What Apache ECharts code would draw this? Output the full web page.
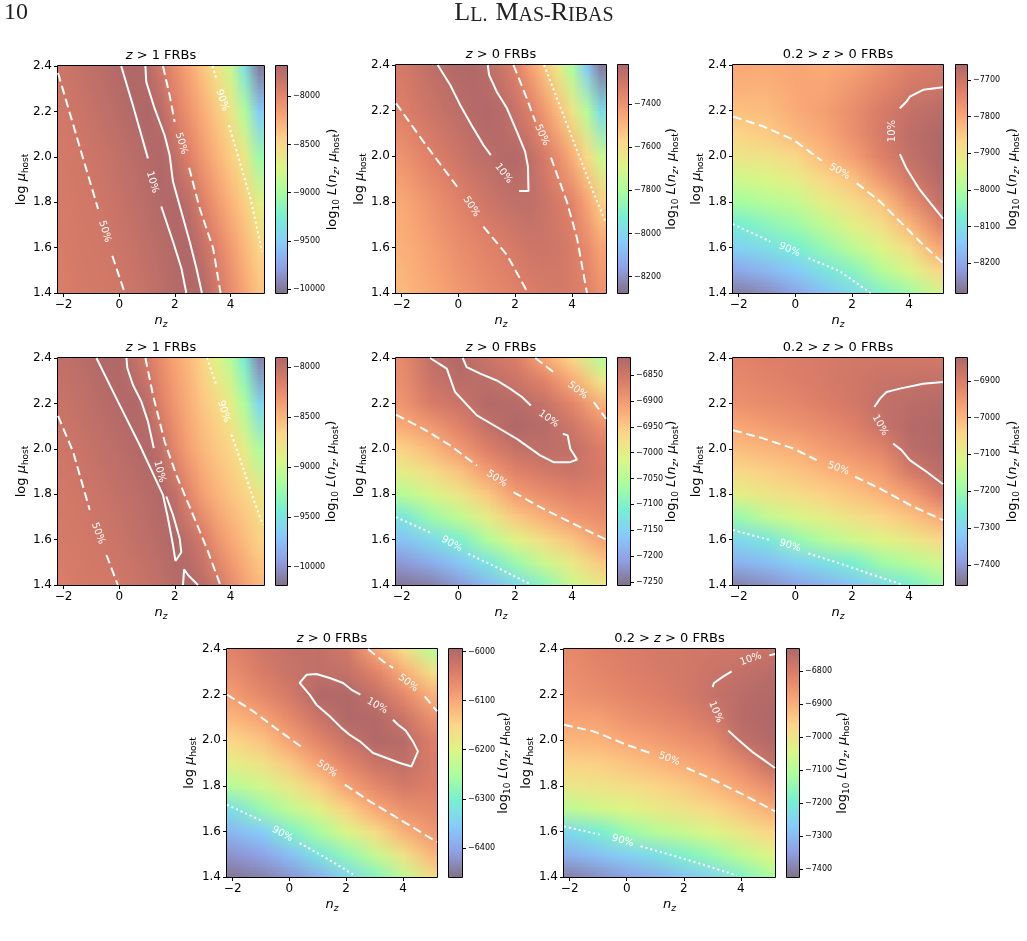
<!DOCTYPE html>
<html>
<head>
<meta charset="utf-8">
<title>Likelihood maps</title>
<script src="https://cdn.jsdelivr.net/npm/echarts@6.0.0/dist/echarts.min.js"></script>
<style>
html,body{margin:0;padding:0;background:#ffffff;}
#chart{width:1027px;height:941px;}
</style>
</head>
<body>
<div id="chart"></div>
<script>
// ================= DATA =================
const TITLES = ['z > 1 FRBs', 'z > 0 FRBs', '0.2 > z > 0 FRBs', 'z > 1 FRBs', 'z > 0 FRBs', '0.2 > z > 0 FRBs', 'z > 0 FRBs', '0.2 > z > 0 FRBs'];
const NZ_TICKS = [-2, 0, 2, 4];
const MU_TICKS = [1.4, 1.6, 1.8, 2.0, 2.2, 2.4];
const NZ_RANGE = [-2.2, 5.2];
const MU_RANGE = [1.4, 2.4];

// grid nodes (n_z columns, log mu_host rows from top)
const NZ_HALF = [-2, -1.5, -1, -0.5, 0, 0.5, 1, 1.5, 2, 2.5, 3, 3.5, 4, 4.5, 5];
const NZ_INT = [-2, -1, 0, 1, 2, 3, 4, 5];
const MU_COARSE = [2.4, 2.2, 2.0, 1.8, 1.6, 1.4];
const MU_FINE = [2.4, 2.3, 2.2, 2.1, 2.0, 1.9, 1.8, 1.7, 1.6, 1.5, 1.4];

// ---- panel 1 : z>1 (top row) ----
const P1_LOGL = [
  [-7840, -7810, -7775, -7740, -7712, -7688, -7720, -7880, -8040, -8200, -8380, -8580, -8830, -9350, -9980],
  [-7870, -7845, -7815, -7775, -7740, -7710, -7688, -7740, -7930, -8090, -8250, -8400, -8590, -8950, -9500],
  [-7890, -7870, -7850, -7820, -7785, -7750, -7720, -7690, -7790, -7950, -8120, -8280, -8420, -8620, -9050],
  [-7900, -7885, -7870, -7850, -7815, -7780, -7745, -7710, -7690, -7760, -7950, -8120, -8280, -8430, -8680],
  [-7910, -7895, -7880, -7865, -7845, -7815, -7775, -7740, -7705, -7690, -7800, -7960, -8130, -8300, -8460],
  [-7920, -7905, -7890, -7880, -7865, -7845, -7805, -7760, -7725, -7700, -7710, -7860, -8030, -8200, -8370]
];
const P1_RANGE = [-10041, -7686];
const P1_CBAR_TICKS = [-8000, -8500, -9000, -9500, -10000];
const P1_C10 = [
  [[0.07, 2.4], [0.49, 2.227], [1.03, 1.993]],
  [[1.51, 1.781], [1.93, 1.627], [2.23, 1.51], [2.41, 1.4]],
  [[0.94, 2.4], [0.97, 2.33], [1.27, 2.213], [1.63, 2.095], [1.81, 2.008], [1.93, 1.891], [2.23, 1.759], [2.53, 1.627], [2.77, 1.51], [2.97, 1.4]]
];
const P1_C50 = [
  [[-2.2, 2.37], [-1.46, 2.06], [-0.76, 1.77]],
  [[-0.25, 1.564], [0.2, 1.4]],
  [[1.57, 2.4], [1.81, 2.271], [1.99, 2.154]],
  [[2.51, 1.952], [2.89, 1.773], [3.37, 1.598], [3.64, 1.4]]
];
const P1_C90 = [
  [[3.35, 2.4], [3.49, 2.344]],
  [[3.94, 2.139], [4.33, 1.978], [4.74, 1.803], [5.13, 1.583]]
];
const P1_LABELS = [[-0.52, 1.671, -73, '50%'], [1.19, 1.888, -73, '10%'], [2.23, 2.059, -73, '50%'], [3.70, 2.249, -72, '90%']];

// ---- panel 2 : z>0 (top row) ----
const P2_LOGL = [
  [-7310, -7285, -7260, -7240, -7225, -7222, -7248, -7290, -7340, -7430, -7525, -7650, -7800, -8040, -8250],
  [-7335, -7310, -7290, -7270, -7255, -7235, -7225, -7238, -7280, -7330, -7410, -7505, -7620, -7770, -7980],
  [-7400, -7370, -7340, -7315, -7290, -7265, -7252, -7235, -7230, -7260, -7310, -7380, -7470, -7580, -7730],
  [-7460, -7430, -7400, -7370, -7345, -7320, -7295, -7275, -7262, -7258, -7280, -7315, -7350, -7440, -7550],
  [-7480, -7460, -7435, -7410, -7385, -7365, -7348, -7333, -7310, -7295, -7290, -7300, -7322, -7370, -7440],
  [-7505, -7480, -7460, -7440, -7415, -7395, -7375, -7360, -7345, -7330, -7318, -7310, -7320, -7335, -7390]
];
const P2_RANGE = [-8276, -7218];
const P2_CBAR_TICKS = [-7400, -7600, -7800, -8000, -8200];
const P2_C10 = [
  [[-0.73, 2.4], [-0.29, 2.312], [0.06, 2.225], [0.53, 2.122], [0.88, 2.049], [1.14, 2.005]],
  [[2.14, 1.847], [2.47, 1.847], [2.45, 1.954], [2.35, 2.02], [2.06, 2.108], [1.71, 2.21], [1.35, 2.283], [1.08, 2.356], [1.035, 2.4]]
];
const P2_C50 = [
  [[-2.2, 2.232], [-1.235, 2.064], [0.0, 1.859]],
  [[0.88, 1.691], [1.71, 1.567], [2.45, 1.4]],
  [[1.94, 2.4], [2.41, 2.254], [2.71, 2.151]],
  [[3.26, 1.994], [3.82, 1.801], [4.18, 1.64], [4.53, 1.4]]
];
const P2_C90 = [
  [[3.02, 2.4], [3.47, 2.254], [4.06, 2.064], [4.65, 1.874], [5.18, 1.713]]
];
const P2_LABELS = [[1.59, 1.925, -52, '10%'], [0.45, 1.779, -57, '50%'], [2.94, 2.093, -66, '50%']];

// ---- panel 3 : 0.2>z>0 (top row) ----
const P3_LOGL = [
  [-7800, -7805, -7795, -7805, -7790, -7760, -7730, -7712],
  [-7815, -7815, -7798, -7795, -7770, -7740, -7710, -7702],
  [-7835, -7830, -7805, -7785, -7755, -7720, -7690, -7675],
  [-7865, -7850, -7825, -7800, -7760, -7715, -7680, -7662],
  [-7900, -7895, -7868, -7825, -7785, -7730, -7688, -7660],
  [-7955, -7940, -7918, -7870, -7837, -7775, -7712, -7672],
  [-8010, -7990, -7968, -7920, -7880, -7840, -7760, -7692],
  [-8075, -8045, -8020, -7975, -7925, -7885, -7820, -7740],
  [-8130, -8105, -8072, -8030, -7980, -7935, -7880, -7800],
  [-8200, -8175, -8145, -8095, -8050, -7990, -7940, -7870],
  [-8262, -8240, -8205, -8160, -8120, -8060, -8020, -7950]
];
const P3_RANGE = [-8281, -7659];
const P3_CBAR_TICKS = [-7700, -7800, -7900, -8000, -8100, -8200];
const P3_C10 = [
  [[5.2, 2.302], [4.50, 2.291], [4.03, 2.261], [3.91, 2.239], [3.68, 2.21]],
  [[3.68, 2.009], [3.91, 1.947], [4.38, 1.853], [4.85, 1.78], [5.2, 1.726]]
];
const P3_C50 = [
  [[-2.2, 2.174], [-1.12, 2.13], [-0.07, 2.072], [0.93, 1.98]],
  [[2.16, 1.882], [2.98, 1.801], [3.91, 1.685], [4.62, 1.597], [5.2, 1.531]]
];
const P3_C90 = [
  [[-2.2, 1.702], [-0.89, 1.626]],
  [[0.46, 1.553], [1.57, 1.495], [2.65, 1.4]]
];
const P3_LABELS = [[3.41, 2.11, 90, '10%'], [1.55, 1.933, -30, '50%'], [-0.21, 1.59, -23, '90%']];

// ---- panel 4 : z>1 (middle row) ----
const P4_LOGL = [
  [-8000, -7975, -7950, -7920, -7915, -7990, -8120, -8260, -8400, -8520, -8660, -8900, -9100, -9450, -10080],
  [-8040, -8015, -7985, -7955, -7930, -7912, -7970, -8170, -8330, -8460, -8590, -8680, -8860, -9150, -9600],
  [-8070, -8050, -8025, -7995, -7970, -7945, -7915, -8000, -8220, -8380, -8500, -8600, -8670, -8850, -9150],
  [-8095, -8080, -8060, -8040, -8010, -7985, -7955, -7920, -8000, -8200, -8370, -8480, -8570, -8650, -8780],
  [-8115, -8100, -8085, -8070, -8045, -8015, -7985, -7955, -7915, -7990, -8110, -8290, -8420, -8530, -8640],
  [-8135, -8120, -8105, -8095, -8080, -8060, -8030, -7990, -7955, -7920, -7975, -8070, -8230, -8380, -8500]
];
const P4_RANGE = [-10184, -7907];
const P4_CBAR_TICKS = [-8000, -8500, -9000, -9500, -10000];
const P4_C10 = [
  [[-0.82, 2.4], [-0.05, 2.209], [0.73, 2.018], [1.57, 1.797], [1.75, 1.694], [1.93, 1.576], [2.02, 1.506], [2.23, 1.544], [2.17, 1.606], [1.93, 1.709], [1.69, 1.79]],
  [[1.24, 2.003], [1.03, 2.121], [0.79, 2.209], [0.49, 2.282], [0.29, 2.356], [0.26, 2.4]],
  [[2.29, 1.4], [2.33, 1.469], [2.47, 1.444], [2.83, 1.4]]
];
const P4_C50 = [
  [[-2.2, 2.145], [-1.66, 1.988], [-1.06, 1.731]],
  [[-0.46, 1.532], [-0.05, 1.4]],
  [[0.94, 2.4], [1.21, 2.238], [1.63, 2.032], [2.05, 1.885], [2.65, 1.709], [3.19, 1.547], [3.63, 1.4]]
];
const P4_C90 = [
  [[3.15, 2.4], [3.49, 2.282]],
  [[4.03, 2.062], [4.45, 1.915], [4.81, 1.782], [5.16, 1.665]]
];
const P4_LABELS = [[-0.76, 1.628, -70, '50%'], [1.45, 1.9, -75, '10%'], [3.75, 2.165, -73, '90%']];

// ---- panel 5 : z>0 (middle row) ----
const P5_LOGL = [
  [-6880, -6836, -6822, -6845, -6862, -6915, -6965, -7050],
  [-6885, -6845, -6828, -6830, -6845, -6870, -6918, -6985],
  [-6895, -6860, -6845, -6822, -6825, -6840, -6875, -6925],
  [-6920, -6898, -6870, -6838, -6818, -6825, -6850, -6885],
  [-6960, -6935, -6900, -6865, -6840, -6832, -6836, -6862],
  [-7000, -6975, -6945, -6903, -6870, -6855, -6845, -6858],
  [-7050, -7020, -6990, -6950, -6905, -6885, -6870, -6868],
  [-7122, -7075, -7040, -7000, -6950, -6925, -6898, -6885],
  [-7170, -7140, -7105, -7055, -7010, -6975, -6945, -6910],
  [-7215, -7195, -7165, -7125, -7075, -7030, -6995, -6950],
  [-7250, -7240, -7215, -7180, -7140, -7090, -7030, -6995]
];
const P5_RANGE = [-7256, -6817];
const P5_CBAR_TICKS = [-6850, -6900, -6950, -7000, -7050, -7100, -7150, -7200, -7250];
const P5_C10 = [
  [[3.68, 2.066], [3.85, 2.059], [3.94, 2.0], [4.18, 1.953], [3.94, 1.941], [3.35, 1.941], [2.88, 1.971], [2.06, 2.044], [1.35, 2.096], [0.65, 2.147], [-0.12, 2.25], [-0.41, 2.353], [-1.0, 2.4]],
  [[2.55, 2.191], [2.24, 2.228], [1.82, 2.265], [1.35, 2.301], [0.77, 2.331], [0.29, 2.36], [0.15, 2.4]]
];
const P5_C50 = [
  [[2.71, 2.4], [3.35, 2.338]],
  [[4.77, 2.206], [5.2, 2.132]],
  [[-2.2, 2.15], [-1.24, 2.088], [-0.29, 2.015], [0.65, 1.926]],
  [[1.94, 1.809], [2.88, 1.743], [4.06, 1.669], [5.2, 1.6]]
];
const P5_C90 = [
  [[-2.2, 1.699], [-1.0, 1.632]],
  [[0.35, 1.537], [1.35, 1.478], [2.53, 1.404]]
];
const P5_LABELS = [[3.18, 2.132, -35, '10%'], [4.2, 2.257, -37, '50%'], [1.35, 1.868, -34, '50%'], [-0.24, 1.581, -29, '90%']];

// ---- panel 6 : 0.2>z>0 (middle row) ----
const P6_LOGL = [
  [-6915, -6905, -6900, -6895, -6890, -6885, -6888, -6890],
  [-6925, -6915, -6905, -6895, -6885, -6875, -6868, -6866],
  [-6940, -6930, -6920, -6905, -6890, -6866, -6855, -6848],
  [-6975, -6960, -6945, -6930, -6910, -6875, -6848, -6840],
  [-7010, -6998, -6985, -6960, -6940, -6915, -6858, -6842],
  [-7050, -7035, -7020, -7000, -6980, -6955, -6895, -6860],
  [-7100, -7080, -7060, -7040, -7020, -6995, -6962, -6905],
  [-7200, -7150, -7120, -7095, -7070, -7045, -7020, -6985],
  [-7295, -7265, -7210, -7170, -7135, -7110, -7085, -7055],
  [-7360, -7340, -7310, -7280, -7245, -7195, -7165, -7135],
  [-7430, -7410, -7385, -7360, -7330, -7290, -7250, -7200]
];
const P6_RANGE = [-7455, -6838];
const P6_CBAR_TICKS = [-6900, -7000, -7100, -7200, -7300, -7400];
const P6_C10 = [
  [[5.2, 2.294], [4.5, 2.287], [3.68, 2.265], [3.21, 2.25], [2.98, 2.221], [2.78, 2.184]],
  [[3.44, 2.023], [3.74, 1.994], [4.03, 1.95], [4.62, 1.899], [5.2, 1.844]]
];
const P6_C50 = [
  [[-2.2, 2.082], [-1.12, 2.045], [-0.07, 2.001], [0.75, 1.95]],
  [[2.10, 1.877], [2.98, 1.825], [4.15, 1.745], [5.2, 1.686]]
];
const P6_C90 = [
  [[-2.2, 1.642], [-0.89, 1.598]],
  [[0.46, 1.539], [1.57, 1.495], [2.74, 1.444], [3.74, 1.403]]
];
const P6_LABELS = [[2.98, 2.104, -60, '10%'], [1.51, 1.913, -20, '50%'], [-0.19, 1.573, -17, '90%']];

// ---- panel 7 : z>0 (bottom row) ----
const P7_LOGL = [
  [-6051, -6030, -6018, -6015, -6030, -6098, -6160, -6235],
  [-6065, -6040, -6022, -6014, -6018, -6050, -6105, -6165],
  [-6085, -6060, -6035, -5998, -5998, -6018, -6060, -6110],
  [-6115, -6093, -6060, -6025, -5997, -6000, -6025, -6070],
  [-6150, -6130, -6092, -6055, -6022, -5998, -6005, -6045],
  [-6190, -6170, -6135, -6092, -6055, -6025, -6012, -6040],
  [-6240, -6215, -6180, -6140, -6092, -6060, -6035, -6045],
  [-6325, -6270, -6230, -6195, -6145, -6100, -6070, -6060],
  [-6380, -6355, -6295, -6255, -6205, -6160, -6110, -6080],
  [-6420, -6405, -6370, -6320, -6275, -6225, -6170, -6115],
  [-6452, -6440, -6420, -6390, -6340, -6290, -6230, -6165]
];
const P7_RANGE = [-6459, -5995];
const P7_CBAR_TICKS = [-6000, -6100, -6200, -6300, -6400];
const P7_C10 = [
  [[2.50, 2.2], [2.18, 2.222], [1.89, 2.251], [1.42, 2.273], [0.95, 2.29], [0.60, 2.287], [0.36, 2.251], [0.71, 2.2], [0.95, 2.156], [1.42, 2.105], [1.83, 2.054], [2.12, 2.024], [2.48, 1.995], [2.95, 1.944], [3.42, 1.922], [3.89, 1.9], [4.30, 1.885], [4.53, 1.951], [4.35, 1.995], [4.10, 2.042], [3.83, 2.068], [3.65, 2.09]]
];
const P7_C50 = [
  [[2.77, 2.4], [3.30, 2.346], [3.65, 2.317]],
  [[4.77, 2.192], [5.2, 2.127]],
  [[-2.2, 2.2], [-1.28, 2.127], [-0.34, 2.039], [0.48, 1.966]],
  [[1.95, 1.805], [2.83, 1.732], [4.0, 1.644], [5.2, 1.553]]
];
const P7_C90 = [
  [[-2.2, 1.717], [-0.93, 1.644]],
  [[0.36, 1.549], [1.3, 1.483], [2.3, 1.407]]
];
const P7_LABELS = [[3.09, 2.151, -30, '10%'], [4.18, 2.251, -38, '50%'], [1.32, 1.875, -35, '50%'], [-0.25, 1.589, -28, '90%']];

// ---- panel 8 : 0.2>z>0 (bottom row) ----
const P8_LOGL = [
  [-6830, -6815, -6805, -6795, -6790, -6785, -6785, -6775],
  [-6840, -6825, -6810, -6800, -6790, -6778, -6765, -6752],
  [-6855, -6840, -6825, -6810, -6795, -6770, -6752, -6740],
  [-6880, -6875, -6850, -6835, -6818, -6790, -6748, -6735],
  [-6915, -6908, -6888, -6870, -6850, -6830, -6765, -6742],
  [-6960, -6955, -6935, -6915, -6895, -6870, -6830, -6768],
  [-7010, -7000, -6985, -6965, -6945, -6915, -6880, -6840],
  [-7090, -7060, -7040, -7015, -6995, -6970, -6935, -6900],
  [-7240, -7195, -7140, -7100, -7070, -7040, -7005, -6965],
  [-7320, -7290, -7260, -7230, -7180, -7140, -7085, -7040],
  [-7400, -7375, -7350, -7325, -7285, -7250, -7180, -7120]
];
const P8_RANGE = [-7425, -6734];
const P8_CBAR_TICKS = [-6800, -6900, -7000, -7100, -7200, -7300, -7400];
const P8_C10 = [
  [[3.01, 2.233], [3.06, 2.251], [3.39, 2.28], [3.68, 2.302]],
  [[5.0, 2.372], [5.2, 2.378]],
  [[3.56, 2.042], [3.97, 1.995], [4.42, 1.947], [4.79, 1.915], [5.2, 1.878]]
];
const P8_C50 = [
  [[-2.2, 2.068], [-1.17, 2.039], [0.0, 1.98], [0.82, 1.944]],
  [[2.10, 1.878], [2.92, 1.834], [4.09, 1.761], [5.2, 1.688]]
];
const P8_C90 = [
  [[-2.2, 1.622], [-0.94, 1.586]],
  [[0.49, 1.535], [1.52, 1.498], [2.69, 1.454], [3.86, 1.407]]
];
const P8_LABELS = [[4.35, 2.356, 20, '10%'], [3.12, 2.124, -68, '10%'], [1.49, 1.918, -20, '50%'], [-0.14, 1.559, -16, '90%']];

// ================= TABLE FOR THE LIBRARY =================
const PANELS = [
  {nz: NZ_HALF, mu: MU_COARSE, v: P1_LOGL, range: P1_RANGE, ticks: P1_CBAR_TICKS, c10: P1_C10, c50: P1_C50, c90: P1_C90, labels: P1_LABELS},
  {nz: NZ_HALF, mu: MU_COARSE, v: P2_LOGL, range: P2_RANGE, ticks: P2_CBAR_TICKS, c10: P2_C10, c50: P2_C50, c90: P2_C90, labels: P2_LABELS},
  {nz: NZ_INT, mu: MU_FINE, v: P3_LOGL, range: P3_RANGE, ticks: P3_CBAR_TICKS, c10: P3_C10, c50: P3_C50, c90: P3_C90, labels: P3_LABELS},
  {nz: NZ_HALF, mu: MU_COARSE, v: P4_LOGL, range: P4_RANGE, ticks: P4_CBAR_TICKS, c10: P4_C10, c50: P4_C50, c90: P4_C90, labels: P4_LABELS},
  {nz: NZ_INT, mu: MU_FINE, v: P5_LOGL, range: P5_RANGE, ticks: P5_CBAR_TICKS, c10: P5_C10, c50: P5_C50, c90: P5_C90, labels: P5_LABELS},
  {nz: NZ_INT, mu: MU_FINE, v: P6_LOGL, range: P6_RANGE, ticks: P6_CBAR_TICKS, c10: P6_C10, c50: P6_C50, c90: P6_C90, labels: P6_LABELS},
  {nz: NZ_INT, mu: MU_FINE, v: P7_LOGL, range: P7_RANGE, ticks: P7_CBAR_TICKS, c10: P7_C10, c50: P7_C50, c90: P7_C90, labels: P7_LABELS},
  {nz: NZ_INT, mu: MU_FINE, v: P8_LOGL, range: P8_RANGE, ticks: P8_CBAR_TICKS, c10: P8_C10, c50: P8_C50, c90: P8_C90, labels: P8_LABELS}
];

// ================= LAYOUT & STYLE =================
const LAYOUT = [
  {plot: [58, 66, 206, 227], cbar: [276, 66, 11, 227], yGap: 28, cGap: 38},
  {plot: [396, 65, 210, 228], cbar: [618, 65, 10, 228], yGap: 28, cGap: 36},
  {plot: [733, 65, 210, 228], cbar: [956, 65, 11, 228], yGap: 28, cGap: 38},
  {plot: [58, 358, 206, 227], cbar: [276, 358, 11, 227], yGap: 28, cGap: 37},
  {plot: [396, 358, 210, 227], cbar: [618, 358, 12, 227], yGap: 28, cGap: 34},
  {plot: [733, 358, 210, 227], cbar: [956, 358, 11, 227], yGap: 28, cGap: 38},
  {plot: [227, 649, 210, 228], cbar: [449, 649, 13, 228], yGap: 29, cGap: 34},
  {plot: [564, 649, 211, 228], cbar: [787, 649, 12, 228], yGap: 29, cGap: 36}
];
const FONT = 'DejaVu Sans';
const TURBO = ['#30123b', '#4662d7', '#36aaf9', '#1ae4b6', '#72fe5e', '#c8ef34', '#faba39', '#f66b19', '#ca2a04', '#7a0403'];
const ALPHA = 0.6;
const BLEND = TURBO.map(h => {
  const n = parseInt(h.slice(1), 16);
  return [(n >> 16) & 255, (n >> 8) & 255, n & 255].map(c => Math.round(c * ALPHA + 255 * (1 - ALPHA)));
});
function cmap(t) {
  t = Math.max(0, Math.min(1, t));
  const s = t * (BLEND.length - 1);
  const i = Math.min(BLEND.length - 2, Math.floor(s));
  const f = s - i;
  return [0, 1, 2].map(k => Math.round(BLEND[i][k] + (BLEND[i + 1][k] - BLEND[i][k]) * f));
}
const CBAR_STOPS = BLEND.map((c, i) => ({offset: 1 - i / (BLEND.length - 1), color: 'rgb(' + c.join(',') + ')'})).reverse();

function makeImage(values, vmin, vmax) {
  const rows = values.length, cols = values[0].length;
  const cv = document.createElement('canvas');
  cv.width = cols; cv.height = rows;
  const ctx = cv.getContext('2d');
  const img = ctx.createImageData(cols, rows);
  for (let r = 0; r < rows; r++) {
    for (let c = 0; c < cols; c++) {
      const col = cmap((values[r][c] - vmin) / (vmax - vmin));
      const o = (r * cols + c) * 4;
      img.data[o] = col[0]; img.data[o + 1] = col[1]; img.data[o + 2] = col[2]; img.data[o + 3] = 255;
    }
  }
  ctx.putImageData(img, 0, 0);
  return cv;
}

const fmtNum = v => (v < 0 ? '\u2212' : '') + Math.abs(v);
const RICH = {
  r: {fontFamily: FONT, fontSize: 13, color: '#000', lineHeight: 16, verticalAlign: 'middle'},
  i: {fontFamily: FONT, fontStyle: 'italic', fontSize: 13, color: '#000', lineHeight: 16, verticalAlign: 'middle'},
  s: {fontFamily: FONT, fontSize: 9, color: '#000', lineHeight: 6, verticalAlign: 'bottom'},
  si: {fontFamily: FONT, fontStyle: 'italic', fontSize: 9, color: '#000', lineHeight: 6, verticalAlign: 'bottom'}
};
const RICH_T = {
  r: {fontFamily: FONT, fontSize: 13, color: '#000'},
  i: {fontFamily: FONT, fontStyle: 'italic', fontSize: 13, color: '#000'}
};
const titleRich = t => t.split('z').map(s => s ? '{r|' + s + '}' : '').join('{i|z}');
const DASH = {solid: 'solid', dashed: [9, 4.5], dotted: [2, 3]};

// ================= BUILD OPTION =================
const grids = [], xAxes = [], yAxes = [], series = [], graphics = [];

PANELS.forEach((p, k) => {
  const L = LAYOUT[k];
  const g = 2 * k, gc = 2 * k + 1;
  grids.push({left: L.plot[0], top: L.plot[1], width: L.plot[2], height: L.plot[3], show: false, containLabel: false, outerBoundsMode: 'none'});
  grids.push({left: L.cbar[0], top: L.cbar[1], width: L.cbar[2], height: L.cbar[3], show: false, containLabel: false, outerBoundsMode: 'none'});

  xAxes.push({
    gridIndex: g, type: 'value', min: NZ_RANGE[0], max: NZ_RANGE[1],
    axisLine: {show: false, onZero: false},
    axisTick: {show: true, customValues: NZ_TICKS, length: 4, lineStyle: {color: '#000', width: 1}},
    axisLabel: {show: true, customValues: NZ_TICKS, formatter: fmtNum, color: '#000', fontSize: 12, fontFamily: FONT, margin: 6},
    splitLine: {show: false},
    name: '{i|n}{si|z}', nameLocation: 'middle', nameGap: 20, nameMoveOverlap: false,
    nameTextStyle: {fontFamily: FONT, fontSize: 13, color: '#000', rich: RICH}
  });
  yAxes.push({
    gridIndex: g, type: 'value', min: MU_RANGE[0], max: MU_RANGE[1],
    axisLine: {show: false, onZero: false},
    axisTick: {show: true, customValues: MU_TICKS, length: 4, lineStyle: {color: '#000', width: 1}},
    axisLabel: {show: true, customValues: MU_TICKS, formatter: v => v.toFixed(1), color: '#000', fontSize: 12, fontFamily: FONT, margin: 6},
    splitLine: {show: false},
    name: '{r|log }{i|\u03bc}{s|host}', nameLocation: 'middle', nameRotate: 90, nameGap: L.yGap, nameMoveOverlap: false,
    nameTextStyle: {fontFamily: FONT, fontSize: 13, color: '#000', rich: RICH}
  });
  xAxes.push({gridIndex: gc, type: 'value', min: 0, max: 1, show: false});
  yAxes.push({
    gridIndex: gc, type: 'value', position: 'right', min: p.range[0], max: p.range[1],
    axisLine: {show: false, onZero: false},
    axisTick: {show: true, customValues: p.ticks, length: 4, lineStyle: {color: '#000', width: 1}},
    axisLabel: {show: true, customValues: p.ticks, formatter: fmtNum, color: '#000', fontSize: 8, fontFamily: FONT, margin: 6},
    splitLine: {show: false},
    name: '{r|log}{s|10}{i| L}{r|(}{i|n}{si|z}{r|, }{i|\u03bc}{s|host}{r|)}',
    nameLocation: 'middle', nameRotate: 90, nameGap: L.cGap, nameMoveOverlap: false,
    nameTextStyle: {fontFamily: FONT, fontSize: 13, color: '#000', rich: RICH}
  });

  // heat map: node grid drawn as an image placed by the axes' scales
  const img = makeImage(p.v, p.range[0], p.range[1]);
  const dx = p.nz[1] - p.nz[0], dy = p.mu[0] - p.mu[1];
  const ext = [p.nz[0] - dx / 2, p.mu[p.mu.length - 1] - dy / 2, p.nz[p.nz.length - 1] + dx / 2, p.mu[0] + dy / 2];
  series.push({
    type: 'custom', xAxisIndex: g, yAxisIndex: g, z: 1, silent: true, animation: false,
    data: [ext],
    renderItem: (params, api) => {
      const tl = api.coord([api.value(0), api.value(3)]);
      const br = api.coord([api.value(2), api.value(1)]);
      const cs = params.coordSys;
      return {type: 'group', children: [
        {type: 'image', style: {image: img, x: tl[0], y: tl[1], width: br[0] - tl[0], height: br[1] - tl[1]},
         clipPath: {type: 'rect', shape: {x: cs.x, y: cs.y, width: cs.width, height: cs.height}}},
        {type: 'rect', shape: {x: cs.x - 0.5, y: cs.y - 0.5, width: cs.width + 1, height: cs.height + 1},
         style: {fill: 'none', stroke: '#000', lineWidth: 1}}
      ]};
    }
  });

  // contours
  [['solid', p.c10], ['dashed', p.c50], ['dotted', p.c90]].forEach(([kind, pieces]) => {
    pieces.forEach(piece => {
      series.push({
        type: 'line', xAxisIndex: g, yAxisIndex: g, z: 3, silent: true, animation: false,
        data: piece, showSymbol: false, symbol: 'none', smooth: false, clip: true,
        lineStyle: {color: '#ffffff', width: 2, type: DASH[kind], cap: 'butt'}
      });
    });
  });

  // contour labels
  series.push({
    type: 'custom', xAxisIndex: g, yAxisIndex: g, z: 4, silent: true, animation: false,
    data: p.labels.map(l => [l[0], l[1]]),
    renderItem: (params, api) => {
      const lab = p.labels[params.dataIndex];
      const pt = api.coord([api.value(0), api.value(1)]);
      return {type: 'text', x: pt[0], y: pt[1], rotation: lab[2] * Math.PI / 180,
        style: {text: lab[3], fill: '#ffffff', fontSize: 10, fontFamily: FONT, align: 'center', verticalAlign: 'middle'}};
    }
  });

  // colour bar
  series.push({
    type: 'custom', xAxisIndex: gc, yAxisIndex: gc, z: 1, silent: true, animation: false,
    data: [[0, p.range[0], 1, p.range[1]]],
    renderItem: (params, api) => {
      const tl = api.coord([api.value(0), api.value(3)]);
      const br = api.coord([api.value(2), api.value(1)]);
      return {type: 'group', children: [
        {type: 'rect', shape: {x: tl[0], y: tl[1], width: br[0] - tl[0], height: br[1] - tl[1]},
         style: {fill: new echarts.graphic.LinearGradient(0, 0, 0, 1, CBAR_STOPS)}},
        {type: 'rect', shape: {x: tl[0] - 0.5, y: tl[1] - 0.5, width: br[0] - tl[0] + 1, height: br[1] - tl[1] + 1},
         style: {fill: 'none', stroke: '#000', lineWidth: 1}}
      ]};
    }
  });

  // panel title
  graphics.push({
    type: 'text', x: L.plot[0] + L.plot[2] / 2, y: L.plot[1] - 10,
    style: {text: titleRich(TITLES[k]), rich: RICH_T, align: 'center', verticalAlign: 'middle', fontFamily: FONT, fontSize: 13}
  });
});

// running head
graphics.push({type: 'text', x: 4, y: 13, style: {text: '10', fontFamily: 'Liberation Serif', fontSize: 24, fill: '#222', verticalAlign: 'middle'}});
graphics.push({
  type: 'text', x: 534, y: 13,
  style: {
    text: '{b|L}{s|L.}{g|\u00a0}{b|M}{s|AS-}{b|R}{s|IBAS}', align: 'center', verticalAlign: 'middle',
    rich: {
      b: {fontFamily: 'Liberation Serif', fontSize: 26, lineHeight: 26, verticalAlign: 'bottom', fill: '#222'},
      s: {fontFamily: 'Liberation Serif', fontSize: 20, lineHeight: 20, verticalAlign: 'bottom', fill: '#222'},
      g: {fontFamily: 'Liberation Serif', fontSize: 20, lineHeight: 20, width: 8, fill: 'rgba(0,0,0,0)'}
    }
  }
});

const chart = echarts.init(document.getElementById('chart'), null, {renderer: 'canvas', width: 1027, height: 941});
chart.setOption({
  animation: false,
  backgroundColor: '#ffffff',
  textStyle: {fontFamily: FONT},
  grid: grids,
  xAxis: xAxes,
  yAxis: yAxes,
  series: series,
  graphic: {elements: graphics}
});
</script>
</body>
</html>
